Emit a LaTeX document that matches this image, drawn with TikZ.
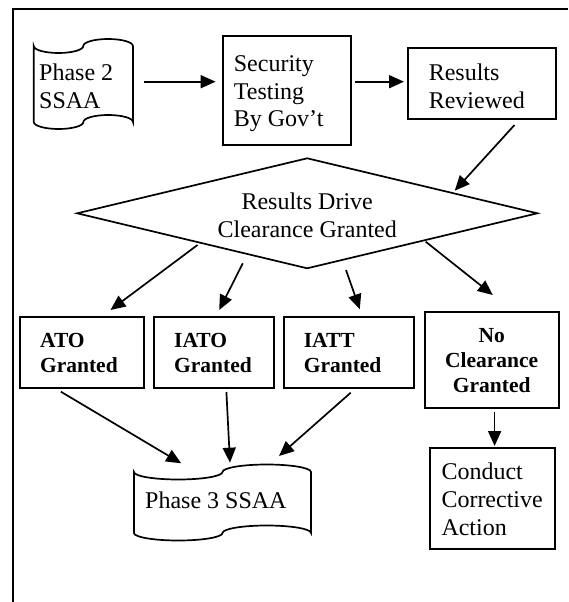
\documentclass[tikz,border=0pt]{standalone}
\usepackage{fontspec}
\setmainfont{Liberation Serif}
\usetikzlibrary{arrows.meta}
\tikzset{
  boxshape/.style={draw, line width=2pt, inner sep=0pt},
  reg/.style={inner sep=0pt, align=left, font=\fontsize{24}{27.6}\selectfont},
  bld/.style={inner sep=0pt, align=left, font=\fontsize{21.5}{24.8}\selectfont\bfseries},
  flow/.style={line width=1.7pt, -{Triangle[length=15pt,width=13pt]}},
  outline/.style={line width=1.7pt},
}
\begin{document}
\begin{tikzpicture}[x=1pt,y=-1pt]
\useasboundingbox (0,0) rectangle (568,602);
% frame
\draw[line width=2pt] (12.7,602) -- (12.7,9.3) -- (568,9.3);

% Phase 2 tape
\draw[outline] (33.7,46) arc[start angle=180,end angle=360,x radius=24.8pt,y radius=7pt]
  arc[start angle=180,end angle=0,x radius=24.8pt,y radius=7pt] -- (133,122)
  arc[start angle=0,end angle=180,x radius=24.8pt,y radius=7pt]
  arc[start angle=0,end angle=-180,x radius=24.8pt,y radius=7pt] -- cycle;
\node[reg, anchor=base west] (p2) at (39,108.3) {Phase 2\\SSAA};

% Security testing
\node[boxshape, minimum width=127.9pt, minimum height=109pt] (sec) at (286.75,90.5) {};
\node[reg, anchor=base west] (sect) at (233.7,126.7) {Security\\Testing\\By Gov’t};

% Results reviewed
\node[boxshape, minimum width=148.4pt, minimum height=71.6pt] (res) at (481.8,83.5) {};
\node[reg, anchor=base west] (rest) at (428.6,108) {Results\\Reviewed};

% Diamond
\coordinate (dT) at (307.2,158.3);
\coordinate (dR) at (537.3,213.3);
\coordinate (dB) at (307.2,268.3);
\coordinate (dL) at (77.2,213.3);
\draw[outline] (dT) -- (dR) -- (dB) -- (dL) -- cycle;
\node[reg, align=center, anchor=base] (dia) at (307.2,237.3) {Results Drive\\Clearance Granted};

% decision boxes
\node[boxshape, minimum width=123.8pt, minimum height=71.6pt] (ato) at (81.9,352.5) {};
\node[bld, anchor=base west] (atot) at (39.9,372.7) {ATO\\Granted};
\node[boxshape, minimum width=120.3pt, minimum height=71.6pt] (iato) at (214.15,352.5) {};
\node[bld, anchor=base west] (iatot) at (174,372.7) {IATO\\Granted};
\node[boxshape, minimum width=130.4pt, minimum height=71.6pt] (iatt) at (348.9,352.5) {};
\node[bld, anchor=base west] (iattt) at (303.6,372.7) {IATT\\Granted};
\node[boxshape, minimum width=134pt, minimum height=96pt] (no) at (491.6,359.8) {};
\node[bld, align=center, anchor=base] (not) at (491.7,392) {No\\Clearance\\Granted};

% Conduct corrective action
\node[boxshape, minimum width=125pt, minimum height=101pt] (cca) at (492.9,498.8) {};
\node[reg, anchor=base west] (ccat) at (441.3,535) {Conduct\\Corrective\\Action};

% Phase 3 tape
\draw[outline] (134,472) arc[start angle=180,end angle=360,x radius=44.25pt,y radius=7.5pt]
  arc[start angle=180,end angle=0,x radius=44.25pt,y radius=7.5pt] -- (311,533)
  arc[start angle=0,end angle=180,x radius=44.25pt,y radius=7.5pt]
  arc[start angle=0,end angle=-180,x radius=44.25pt,y radius=7.5pt] -- cycle;
\node[reg, anchor=base west] (p3) at (145,508) {Phase 3 SSAA};

% arrow end points
\coordinate (a1s) at (144,81.7);   \coordinate (a1e) at (215.6,81.7);
\coordinate (a2s) at (355,81.7);   \coordinate (a2e) at (404,81.7);
\coordinate (a3s) at (514.5,125);  \coordinate (a3e) at (454.7,190.7);
\coordinate (a4s) at (197.5,245);  \coordinate (a4e) at (110.5,310);
\coordinate (a5s) at (242.8,263.3);\coordinate (a5e) at (219.2,310);
\coordinate (a6s) at (346,270);    \coordinate (a6e) at (359.8,309.3);
\coordinate (a7s) at (425.7,241.7);\coordinate (a7e) at (492.8,295);
\coordinate (a8s) at (494.6,411.7);\coordinate (a8e) at (494.6,446);
\coordinate (a9s) at (60.9,391.7); \coordinate (a9e) at (181.2,463.3);
\coordinate (a10s) at (226.4,392); \coordinate (a10e) at (230,462.7);
\coordinate (a11s) at (350.7,392.7);\coordinate (a11e) at (279,456);

\draw[flow] (a1s) -- (a1e);
\draw[flow] (a2s) -- (a2e);
\draw[flow] (a3s) -- (a3e);
\draw[flow] (a4s) -- (a4e);
\draw[flow] (a5s) -- (a5e);
\draw[flow] (a6s) -- (a6e);
\draw[flow] (a7s) -- (a7e);
\draw[flow] (a8s) -- (a8e);
\draw[flow] (a9s) -- (a9e);
\draw[flow] (a10s) -- (a10e);
\draw[flow] (a11s) -- (a11e);
\end{tikzpicture}
\end{document}
